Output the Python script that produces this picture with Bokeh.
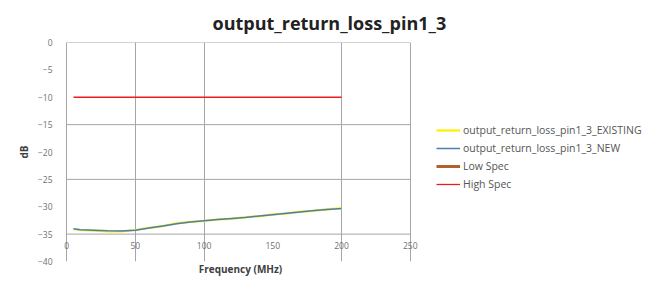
from bokeh.plotting import figure
from bokeh.models import (Range1d, FixedTicker, LinearAxis, Legend, LegendItem,
                          Grid, Title, Label)
from bokeh.embed import file_html
from bokeh.resources import INLINE

# ---- data ----
freq = [5, 10, 20, 30, 40, 50, 60, 70, 80, 90, 100, 110, 120, 130, 140, 150,
        160, 170, 180, 190, 200]
existing = [-34.1, -34.25, -34.35, -34.5, -34.5, -34.25, -33.85, -33.55, -33.05,
            -32.75, -32.6, -32.3, -32.2, -31.9, -31.75, -31.4, -31.25, -30.9,
            -30.75, -30.45, -30.3]
new = [-34.0, -34.2, -34.3, -34.4, -34.45, -34.3, -33.9, -33.5, -33.1, -32.8,
       -32.55, -32.35, -32.15, -31.95, -31.7, -31.45, -31.2, -30.95, -30.7,
       -30.5, -30.3]
low_spec_x = [5, 200]
low_spec_y = [float("nan"), float("nan")]   # no visible Low Spec values
high_spec_x = [5, 200]
high_spec_y = [-10, -10]

x_ticks = [0, 50, 100, 150, 200, 250]
x_tick_labels = ["0", "50", "100", "150", "200", "250"]
x_axis_at = -35
y_ticks = [0, -5, -10, -15, -20, -25, -30, -35, -40]
x_grid = [0, 50, 100, 200, 250]
y_grid = [0, -15, -25, -35]

FONT = "Open Sans"
GRID = "#a6a6a6"
LBL = "#707070"

# small padding on the x range so the outer tick labels are not clipped
p = figure(frame_width=356, frame_height=219, output_backend="svg",
           toolbar_location=None,
           x_range=Range1d(-3, 256), y_range=Range1d(-40, 0),
           min_border_left=62, min_border_right=242, min_border_top=42,
           min_border_bottom=24, x_axis_type=None, y_axis_type=None)
p.outline_line_color = None
p.background_fill_color = "white"
p.border_fill_color = "white"

t = Title(text="output_return_loss_pin1_3", align="left", offset=150,
          text_font=FONT, text_font_style="bold", text_font_size="18px",
          text_color="#222222", standoff=15)
p.add_layout(t, "above")

# y axis (its line is drawn by the x grid at 0)
yax = LinearAxis(ticker=FixedTicker(ticks=y_ticks), axis_label="dB")
yax.axis_line_color = None
yax.major_tick_line_color = None
yax.minor_tick_line_color = None
yax.major_label_text_font = FONT
yax.major_label_text_font_size = "8.5px"
yax.major_label_text_color = LBL
yax.major_label_standoff = 4
yax.axis_label_text_font = FONT
yax.axis_label_text_font_style = "bold"
yax.axis_label_text_font_size = "10px"
yax.axis_label_text_color = "#404040"
yax.axis_label_standoff = 4
p.add_layout(yax, "left")

# x axis title only
xt = LinearAxis(ticker=FixedTicker(ticks=[]), axis_label="Frequency (MHz)")
xt.axis_line_color = None
xt.major_tick_line_color = None
xt.minor_tick_line_color = None
xt.axis_label_text_font = FONT
xt.axis_label_text_font_style = "bold"
xt.axis_label_text_font_size = "10px"
xt.axis_label_text_color = "#404040"
xt.axis_label_standoff = 0
p.add_layout(xt, "below")

# grids: vertical lines full height, horizontal lines between first and last x tick
p.add_layout(Grid(dimension=0, ticker=FixedTicker(ticks=x_grid),
                  grid_line_color=GRID, grid_line_width=1))
p.segment(x0=[x_ticks[0]] * len(y_grid), x1=[x_ticks[-1]] * len(y_grid),
          y0=y_grid, y1=y_grid, line_color=GRID, line_width=1)

# x tick labels just under the -35 line (axis crosses there)
for xv, txt in zip(x_ticks, x_tick_labels):
    p.add_layout(Label(x=xv, y=x_axis_at, text=txt, y_offset=-8,
                       text_font=FONT, text_font_size="8.5px", text_color=LBL,
                       text_align="center", text_baseline="top"))

r_ex = p.line(freq, existing, line_color="#ffee00", line_width=2.2)
r_new = p.line(freq, new, line_color="#4a7ebb", line_width=1.5)
r_low = p.line(low_spec_x, low_spec_y, line_color="#b4602a", line_width=3)
r_high = p.line(high_spec_x, high_spec_y, line_color="#ee1c1c", line_width=1.3)

legend = Legend(items=[
    LegendItem(label="output_return_loss_pin1_3_EXISTING", renderers=[r_ex]),
    LegendItem(label="output_return_loss_pin1_3_NEW", renderers=[r_new]),
    LegendItem(label="Low Spec", renderers=[r_low]),
    LegendItem(label="High Spec", renderers=[r_high]),
], location=(18, 70))
legend.background_fill_alpha = 0
legend.border_line_color = None
legend.label_text_font = FONT
legend.label_text_font_size = "10.5px"
legend.label_text_color = "#555555"
legend.glyph_width = 24
legend.glyph_height = 10
legend.spacing = 4
legend.label_height = 10
legend.label_standoff = 3
legend.padding = 0
p.add_layout(legend, "right")

open("out.html", "w").write(file_html(p, INLINE))
